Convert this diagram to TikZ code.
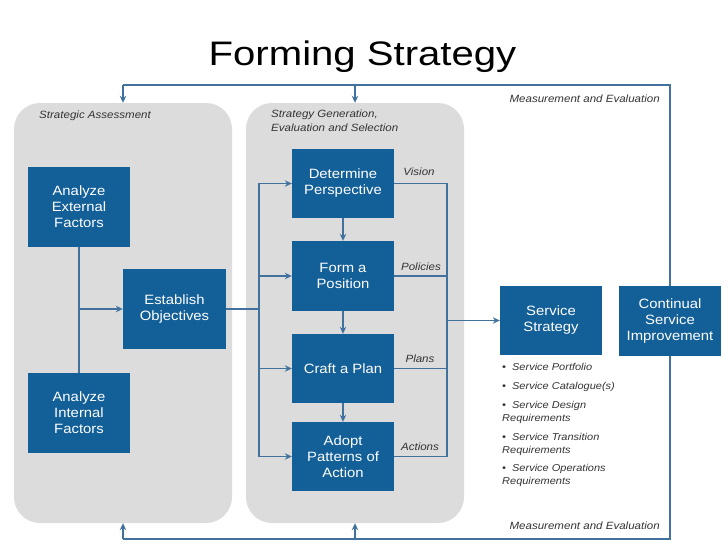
\documentclass[tikz,border=0pt]{standalone}
\usepackage{fontspec}
\setmainfont{Liberation Sans}[FakeStretch=1.1]
\newfontfamily\titlefont{Liberation Sans}[FakeStretch=1.18]
\usetikzlibrary{arrows.meta}
\definecolor{boxblue}{HTML}{135F98}
\definecolor{panelgray}{HTML}{DCDCDC}
\definecolor{linecol}{HTML}{41729E}
\definecolor{labelgray}{HTML}{333333}
\tikzset{
  boxnode/.style={fill=boxblue, text=white, minimum width=102pt, inner sep=0pt, align=center, font=\fontsize{13.5}{16}\selectfont},
  panel/.style={fill=panelgray, rounded corners=26pt, minimum width=218pt, minimum height=420pt, inner sep=0pt},
  conn/.style={draw=linecol, line width=1.9pt},
  arr/.style={conn, -{Stealth[length=7pt,width=6.5pt]}},
  lbl/.style={text=labelgray, font=\fontsize{10.5}{14}\selectfont\itshape, inner sep=0pt},
}
\begin{document}
\begin{tikzpicture}[x=1pt,y=-1pt]
\useasboundingbox (0,0) rectangle (728,546);
\fill[white] (0,0) rectangle (728,546);
% title
\node[anchor=base, font=\titlefont\fontsize{34}{40}\selectfont, inner sep=0pt] (title) at (362.5,65) {Forming Strategy};
% panels
\node[panel] (pA) at (123,313) {};
\node[panel] (pB) at (355,313) {};
\node[lbl, anchor=west] (pAt) at (39,116) {Strategic Assessment};
\node[lbl, anchor=north west, align=left] (pBt) at (271,110) {Strategy Generation,\\Evaluation and Selection};
% boxes
\node[boxnode, minimum height=80pt] (ext) at (79,207) {Analyze\\External\\Factors};
\node[boxnode, minimum height=80pt, minimum width=103pt] (obj) at (174.5,309) {Establish\\Objectives};
\node[boxnode, minimum height=80pt] (int) at (79,413) {Analyze\\Internal\\Factors};
\node[boxnode, minimum height=69pt] (dp) at (343,183.5) {Determine\\Perspective};
\node[boxnode, minimum height=70pt] (fp) at (343,276) {Form a\\Position};
\node[boxnode, minimum height=69pt] (cp) at (343,368.5) {Craft a Plan};
\node[boxnode, minimum height=69pt] (ap) at (343,456.5) {Adopt\\Patterns of\\Action};
\node[boxnode, minimum height=69pt] (ss) at (551,320.5) {Service\\Strategy};
\node[boxnode, minimum height=70pt] (csi) at (670,321) {Continual\\Service\\Improvement};
% coordinates
\coordinate (j1) at (79,309);
\coordinate (b1) at (259,309);
\coordinate (rb) at (447,320.5);
\coordinate (tl) at (123,85);
\coordinate (tm) at (355,85);
\coordinate (tr) at (670,85);
\coordinate (bl) at (123,539);
\coordinate (bm) at (355,539);
\coordinate (br) at (670,539);
% left panel connectors
\draw[conn] (ext.south) -- (int.north);
\draw[arr] (j1) -- (obj.west);
% to strategy generation
\draw[conn] (obj.east) -- (b1);
\draw[arr] (b1) |- (dp.west);
\draw[arr] (b1) |- (fp.west);
\draw[arr] (b1) |- (cp.west);
\draw[arr] (b1) |- (ap.west);
\draw[arr] (dp.south) -- (fp.north);
\draw[arr] (fp.south) -- (cp.north);
\draw[arr] (cp.south) -- (ap.north);
% right bus
\draw[conn] (dp.east) -| (rb);
\draw[conn] (fp.east) -| (rb);
\draw[conn] (cp.east) -| (rb);
\draw[conn] (ap.east) -| (rb);
\draw[arr] (rb) -- (ss.west);
\node[lbl] (lv) at (419,172) {Vision};
\node[lbl] (lpo) at (421,267) {Policies};
\node[lbl] (lpl) at (420,359) {Plans};
\node[lbl] (lac) at (420,447) {Actions};
% feedback loop
\draw[conn] (csi.north) -- (tr) -- (tl);
\draw[arr] (tl) -- (pA.north);
\draw[arr] (tm) -- (pB.north);
\draw[conn] (csi.south) -- (br) -- (bl);
\draw[arr] (bl) -- (pA.south);
\draw[arr] (bm) -- (pB.south);
\node[lbl, anchor=east] (me1) at (660,99) {Measurement and Evaluation};
\node[lbl, anchor=east] (me2) at (660,526) {Measurement and Evaluation};
% bullets
\node[lbl, anchor=north west, align=left, font=\fontsize{10}{13}\selectfont\itshape] (bul) at (502,363)
  {•\ \ Service Portfolio\\[6pt]
   •\ \ Service Catalogue(s)\\[6pt]
   •\ \ Service Design\\Requirements\\[6pt]
   •\ \ Service Transition\\Requirements\\[5pt]
   •\ \ Service Operations\\Requirements};
\end{tikzpicture}
\end{document}
